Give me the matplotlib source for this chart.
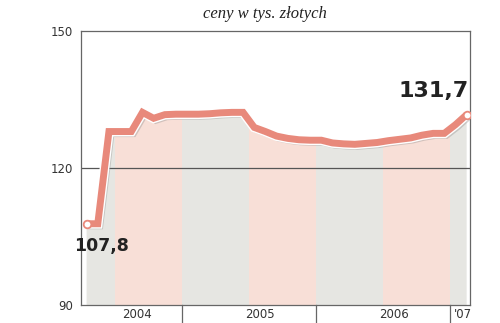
import matplotlib
matplotlib.use("Agg")
import matplotlib.pyplot as plt
import matplotlib.patheffects as pe
import matplotlib.transforms as mtransforms
import numpy as np

# monthly average prices, months counted from Jan 2004 (0 = Jan 2004)
months = np.arange(35) + 3.5
prices = [107.8, 107.8, 128.0, 128.0, 128.0, 132.2, 130.9, 131.7, 131.8, 131.8,
          131.8, 131.9, 132.1, 132.2, 132.2, 128.9, 128.0, 127.0, 126.5, 126.2,
          126.1, 126.1, 125.5, 125.3, 125.2, 125.4, 125.6, 126.0, 126.3, 126.6,
          127.2, 127.6, 127.6, 129.5, 131.7]

year_starts = [12, 24, 36]
year_labels = ["2004", "2005", "2006", "'07"]
year_label_x = [8.0, 19.0, 31.0, 37.2]
half_years = [0, 6, 12, 18, 24, 30, 36, 42]

LINE = "#e8897b"
PINK = "#f8dfd7"
GRAY = "#e6e6e2"
TEXT = "#222222"

fig = plt.figure(figsize=(5, 3.23), dpi=100)
ax = fig.add_axes([0.162, 0.0557, 0.778, 0.848])

ax.set_xlim(3.0, 37.8)
ax.set_ylim(90, 150)

# area under the line, coloured by half-years
area = ax.fill_between(months, prices, 90, color="none", lw=0)
clip = area.get_paths()[0]
for i in range(len(half_years) - 1):
    col = GRAY if i % 2 == 0 else PINK
    span = ax.axvspan(half_years[i], half_years[i + 1], color=col, lw=0, zorder=1)
    span.set_clip_path(clip, ax.transData)

ax.axhline(120, color="#555555", lw=0.9, zorder=2)

ax.plot(months, prices, color=LINE, lw=5, solid_joinstyle="miter",
        solid_capstyle="butt", zorder=4,
        path_effects=[pe.SimpleLineShadow(offset=(1.5, -1.5), shadow_color="#888888", alpha=0.35),
                      pe.Stroke(linewidth=7, foreground="white"),
                      pe.Normal()])
ax.plot([months[0], months[-1]], [prices[0], prices[-1]], "o", ms=5.5,
        mfc="white", mec=LINE, mew=1.3, zorder=5)

ax.text(months[0] + 1.3, 103.0, "107,8", ha="center", va="center", fontsize=12.5,
        fontweight="heavy", color=TEXT, zorder=6)
ax.text(37.66, 136.9, "131,7", ha="right", va="center", fontsize=16,
        fontweight="heavy", color=TEXT, zorder=6)

for s in ax.spines.values():
    s.set_color("#666666")
    s.set_linewidth(0.9)

ax.set_yticks([90, 120, 150])
ax.tick_params(axis="y", length=0, pad=6, labelsize=8.5, labelcolor="#333333")
ax.set_xticks([])

trans = mtransforms.blended_transform_factory(ax.transData, ax.transAxes)
for x in year_starts:
    ax.plot([x, x], [0, -0.07], color="#666666", lw=0.9, transform=trans, clip_on=False)
for x, lab in zip(year_label_x, year_labels):
    ax.text(x, -0.036, lab, transform=trans, ha="center", va="center",
            fontsize=8.5, color="#333333")

fig.text(0.53, 0.957, "ceny w tys. złotych", ha="center", va="center",
         fontsize=12, style="italic", family="Liberation Serif", color=TEXT)

fig.savefig("out.png", dpi=100)
